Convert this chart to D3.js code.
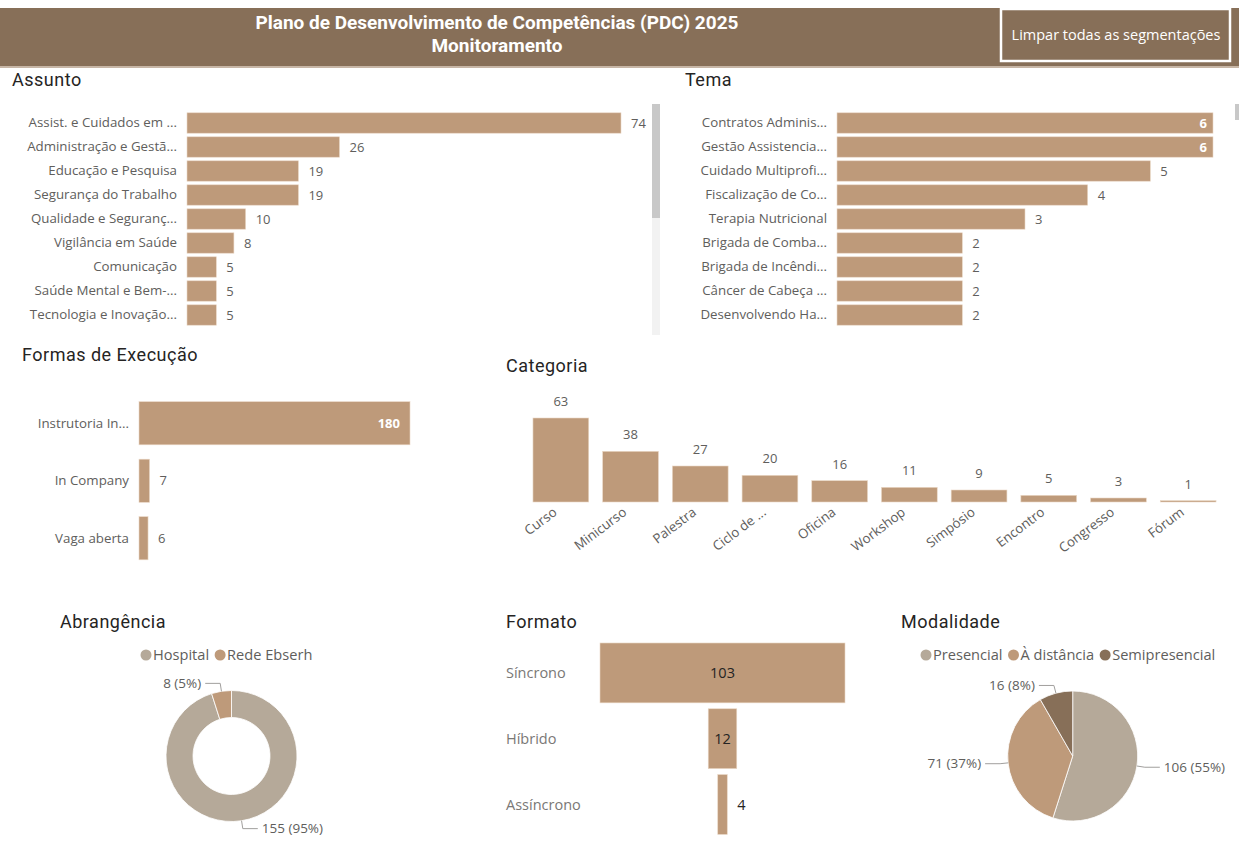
<!DOCTYPE html>
<html lang="pt">
<head>
<meta charset="UTF-8">
<title>PDC 2025 Monitoramento</title>
<script src="https://d3js.org/d3.v7.min.js"></script>
<style>
  body { margin: 0; background: #fff; }
  text { font-family: "Open Sans", "Noto Sans", sans-serif; }
  .ttl { font-family: "Roboto", "Open Sans", sans-serif; font-size: 18px; letter-spacing: 0.5px; fill: #252423; }
  .lbl { font-size: 13px; fill: #605e5c; }
</style>
</head>
<body>
<div id="chart"></div>
<script>
// ---- data ----
const assuntoCats = ["Assist. e Cuidados em ...", "Administração e Gestã...", "Educação e Pesquisa", "Segurança do Trabalho",
  "Qualidade e Seguranç...", "Vigilância em Saúde", "Comunicação", "Saúde Mental e Bem-...", "Tecnologia e Inovação..."]
const assuntoVals = [74, 26, 19, 19, 10, 8, 5, 5, 5]

const temaCats = ["Contratos Adminis...", "Gestão Assistencia...", "Cuidado Multiprofi...", "Fiscalização de Co...",
  "Terapia Nutricional", "Brigada de Comba...", "Brigada de Incêndi...", "Câncer de Cabeça ...", "Desenvolvendo Ha..."]
const temaVals = [6, 6, 5, 4, 3, 2, 2, 2, 2]

const formasCats = ["Instrutoria In...", "In Company", "Vaga aberta"]
const formasVals = [180, 7, 6]

const categoriaCats = ["Curso", "Minicurso", "Palestra", "Ciclo de ...", "Oficina", "Workshop", "Simpósio", "Encontro", "Congresso", "Fórum"]
const categoriaVals = [63, 38, 27, 20, 16, 11, 9, 5, 3, 1]

const abrangCats = ["Hospital", "Rede Ebserh"]
const abrangVals = [155, 8]

const formatoCats = ["Síncrono", "Híbrido", "Assíncrono"]
const formatoVals = [103, 12, 4]

const modalCats = ["Presencial", "À distância", "Semipresencial"]
const modalVals = [106, 71, 16]

const barColor = "#be9a7a"
const headColor = "#876f58"
const grayBeige = "#b5a999"

const W = 1239, H = 859

const svg = d3.select("#chart").append("svg")
  .attr("width", W).attr("height", H)

// ---- header ----
svg.append("rect").attr("x", 0).attr("y", 8).attr("width", W).attr("height", 58).attr("fill", headColor)
svg.append("rect").attr("x", 0).attr("y", 66).attr("width", W).attr("height", 2).attr("fill", "#c7b6a6")
svg.append("text").attr("x", 497).attr("y", 29).attr("text-anchor", "middle")
  .style("font-family", "Roboto").style("font-weight", 700).style("font-size", "19px").attr("fill", "#fff")
  .text("Plano de Desenvolvimento de Competências (PDC) 2025")
svg.append("text").attr("x", 497).attr("y", 52).attr("text-anchor", "middle")
  .style("font-family", "Roboto").style("font-weight", 700).style("font-size", "19px").attr("fill", "#fff")
  .text("Monitoramento")
svg.append("rect").attr("x", 1001).attr("y", 9).attr("width", 229).attr("height", 52)
  .attr("fill", "none").attr("stroke", "#fff").attr("stroke-width", 2.5)
svg.append("text").attr("x", 1116).attr("y", 40).attr("text-anchor", "middle")
  .style("font-size", "14.5px").attr("fill", "#fff").text("Limpar todas as segmentações")

function title(x, y, t) {
  svg.append("text").attr("class", "ttl").attr("x", x).attr("y", y).text(t)
}

// ---- horizontal bar chart ----
function hbar(cats, vals, o) {
  const g = svg.append("g")
  const y = d3.scaleBand().domain(cats).range(o.yr).paddingInner(o.pad).paddingOuter(o.pad / 2)
  const x = d3.scaleLinear().domain([0, d3.max(vals)]).range(o.xr)
  const data = cats.map((c, i) => ({ c, v: vals[i] }))
  g.append("g").attr("transform", `translate(${o.xr[0]},0)`)
    .call(d3.axisLeft(y).tickSize(0).tickPadding(10))
    .call(a => a.select(".domain").remove())
    .selectAll("text").attr("class", "lbl").style("font-size", "13.3px").attr("fill", "#605e5c")
  g.selectAll("rect").data(data).join("rect")
    .attr("x", x(0)).attr("y", d => y(d.c))
    .attr("width", d => x(d.v) - x(0)).attr("height", y.bandwidth())
    .attr("fill", barColor).attr("stroke", "#ead8c6").attr("stroke-width", 0.6)
  const mx = d3.max(vals)
  g.selectAll(".val").data(data).join("text")
    .attr("class", "val")
    .attr("x", d => d.v === mx && o.inside ? x(d.v) - o.inPad : x(d.v) + 10)
    .attr("y", d => y(d.c) + y.bandwidth() / 2)
    .attr("dy", "0.35em")
    .attr("text-anchor", d => d.v === mx && o.inside ? "end" : "start")
    .style("font-size", "13px")
    .style("font-weight", d => d.v === mx && o.inside ? 700 : 400)
    .attr("fill", d => d.v === mx && o.inside ? "#fff" : "#605e5c")
    .text(d => d.v)
}

title(12, 86, "Assunto")
hbar(assuntoCats, assuntoVals, { yr: [111, 327], xr: [187, 621], pad: 0.15, inside: false })
// scrollbar
svg.append("rect").attr("x", 652).attr("y", 104).attr("width", 8).attr("height", 231).attr("fill", "#f2f2f2")
svg.append("rect").attr("x", 652).attr("y", 104).attr("width", 8).attr("height", 114).attr("fill", "#c8c8c8")

title(685, 86, "Tema")
hbar(temaCats, temaVals, { yr: [111, 327], xr: [837, 1213], pad: 0.15, inside: true, inPad: 6 })
svg.append("rect").attr("x", 1235).attr("y", 104).attr("width", 4).attr("height", 16).attr("fill", "#c8c8c8")

title(22, 361, "Formas de Execução")
hbar(formasCats, formasVals, { yr: [394.5, 567], xr: [139, 410], pad: 0.25, inside: true, inPad: 10 })

// ---- Categoria column chart ----
title(506, 372, "Categoria")
{
  const x = d3.scaleBand().domain(categoriaCats).range([526, 1223]).paddingInner(0.2).paddingOuter(0.1)
  const y = d3.scaleLinear().domain([0, d3.max(categoriaVals)]).range([502, 418])
  const data = categoriaCats.map((c, i) => ({ c, v: categoriaVals[i] }))
  const g = svg.append("g")
  g.selectAll("rect").data(data).join("rect")
    .attr("x", d => x(d.c)).attr("y", d => y(d.v))
    .attr("width", x.bandwidth()).attr("height", d => y(0) - y(d.v))
    .attr("fill", barColor).attr("stroke", "#ead8c6").attr("stroke-width", 0.6)
  g.selectAll(".val").data(data).join("text")
    .attr("x", d => x(d.c) + x.bandwidth() / 2).attr("y", d => y(d.v) - 12)
    .attr("text-anchor", "middle").attr("class", "lbl").text(d => d.v)
  g.append("g").attr("transform", "translate(0,502)")
    .call(d3.axisBottom(x).tickSize(0).tickPadding(0))
    .call(a => a.select(".domain").remove())
    .selectAll("text")
    .attr("class", "lbl").style("font-size", "13.3px").attr("fill", "#605e5c")
    .attr("text-anchor", "end").attr("dy", 0).attr("y", 0)
    .attr("transform", "translate(-3,12) rotate(-37)")
}

// ---- pies ----
function legend(x0, y0, cats, colors) {
  let x = x0
  cats.forEach((c, i) => {
    svg.append("circle").attr("cx", x).attr("cy", y0).attr("r", 5.5).attr("fill", colors[i])
    const t = svg.append("text").attr("x", x + 7).attr("y", y0).attr("dy", "0.35em")
      .style("font-size", "14.6px").attr("fill", "#605e5c").text(c)
    x += t.node().getComputedTextLength() + 18
  })
}

function pieChart(cats, vals, colors, cx, cy, r, inner) {
  const total = d3.sum(vals)
  const data = d3.pie().sort(null)(vals)
  const arc = d3.arc().innerRadius(inner).outerRadius(r)
  const g = svg.append("g").attr("transform", `translate(${cx},${cy})`)
  g.selectAll("path").data(data).join("path")
    .attr("d", arc).attr("fill", (d, i) => colors[i])
    .attr("stroke", "#fff").attr("stroke-width", 0.8)
  data.forEach(d => {
    const a = (d.startAngle + d.endAngle) / 2
    const s = Math.sin(a), c = -Math.cos(a)
    const p1 = [s * r, c * r], p2 = [s * (r + 8), c * (r + 8)]
    const side = s >= 0 ? 1 : -1
    const p3 = [p2[0] + side * 15, p2[1]]
    g.append("polyline").attr("points", [p1, p2, p3].join(" "))
      .attr("fill", "none").attr("stroke", "#a19f9d").attr("stroke-width", 1)
    g.append("text").attr("x", p3[0] + side * 4).attr("y", p3[1]).attr("dy", "0.35em")
      .attr("text-anchor", side > 0 ? "start" : "end")
      .style("font-size", "13.5px").attr("fill", "#605e5c")
      .text(`${d.data} (${Math.round(d.data / total * 100)}%)`)
  })
}

title(60, 628, "Abrangência")
legend(146, 655, abrangCats, [grayBeige, barColor])
pieChart(abrangCats, abrangVals, [grayBeige, barColor], 231.5, 756, 65.5, 38.5)

title(901, 628, "Modalidade")
legend(926, 655, modalCats, [grayBeige, barColor, headColor])
pieChart(modalCats, modalVals, [grayBeige, barColor, headColor], 1072.7, 756, 65, 0)

// ---- Formato funnel ----
title(506, 628, "Formato")
{
  const y = d3.scaleBand().domain(formatoCats).range([639.7, 837.7]).paddingInner(0.09).paddingOuter(0.05)
  const w = d3.scaleLinear().domain([0, d3.max(formatoVals)]).range([0, 245])
  const cx = 722.5
  const data = formatoCats.map((c, i) => ({ c, v: formatoVals[i] }))
  const g = svg.append("g")
  g.selectAll("rect").data(data).join("rect")
    .attr("x", d => cx - w(d.v) / 2).attr("y", d => y(d.c))
    .attr("width", d => w(d.v)).attr("height", y.bandwidth())
    .attr("fill", barColor).attr("stroke", "#ead8c6").attr("stroke-width", 0.6)
  g.selectAll(".cat").data(data).join("text")
    .attr("x", 506).attr("y", d => y(d.c) + y.bandwidth() / 2).attr("dy", "0.35em")
    .style("font-size", "14.5px").attr("fill", "#7a7876").text(d => d.c)
  g.selectAll(".val").data(data).join("text")
    .attr("x", d => w(d.v) > 25 ? cx : cx + w(d.v) / 2 + 10)
    .attr("y", d => y(d.c) + y.bandwidth() / 2).attr("dy", "0.35em")
    .attr("text-anchor", d => w(d.v) > 25 ? "middle" : "start")
    .style("font-size", "14.5px").attr("fill", "#252423").text(d => d.v)
}
</script>
</body>
</html>
